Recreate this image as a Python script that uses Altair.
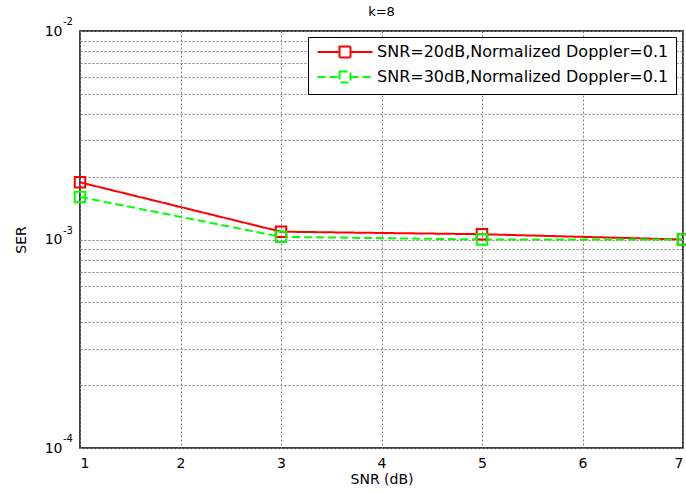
import altair as alt
import pandas as pd

# ---- data ----
snr = [1, 3, 5, 7]
ser_20db = [1.88e-3, 1.09e-3, 1.06e-3, 1.00e-3]
ser_30db = [1.60e-3, 1.03e-3, 1.00e-3, 1.00e-3]
series_names = ["SNR=20dB,Normalized Doppler=0.1", "SNR=30dB,Normalized Doppler=0.1"]
x_ticks = [1, 2, 3, 4, 5, 6, 7]
decades = [1e-2, 1e-3, 1e-4]
decade_exps = ["-2", "-3", "-4"]
y_grid = [m * 10.0 ** e for e in (-4, -3) for m in range(1, 10)] + [1e-2]

rows = []
for name, vals in zip(series_names, [ser_20db, ser_30db]):
    for x, v in zip(snr, vals):
        rows.append({"snr": x, "ser": v, "series": name})
df = pd.DataFrame(rows)
df_exp = pd.DataFrame({"ser": decades, "exp": decade_exps})

FONT = "DejaVu Sans"

yscale = alt.Scale(type="log", domain=[1e-4, 1e-2], nice=False)
xscale = alt.Scale(domain=[1, 7], nice=False)
cscale = alt.Scale(domain=series_names, range=["#ff0000", "#00ff00"])

color = alt.Color("series:N", sort=series_names, scale=cscale,
                  legend=alt.Legend(title=None, orient="none", legendX=228, legendY=6,
                                    symbolType="M-5,0L-1,0M1,0L5,0M-1,-1L1,-1L1,1L-1,1Z",
                                    symbolSize=121, symbolStrokeWidth=2,
                                    symbolFillColor="white",
                                    symbolOffset=22, labelOffset=24,
                                    labelFontSize=16, labelFont=FONT, labelColor="black",
                                    labelLimit=400,
                                    rowPadding=5, padding=7,
                                    strokeColor="black", fillColor="white"))
dash = alt.StrokeDash("series:N", sort=series_names,
                      scale=alt.Scale(domain=series_names, range=[[1, 0], [8, 4]]),
                      legend=None)

x_enc = alt.X("snr:Q", scale=xscale, title="SNR (dB)",
              axis=alt.Axis(values=x_ticks, format="d", grid=True, ticks=False,
                            domain=False, labelPadding=8, titlePadding=2))
y_enc = alt.Y("ser:Q", scale=yscale, title="SER",
              axis=alt.Axis(values=y_grid, grid=True, ticks=False, domain=False,
                            labelOverlap=False, labelBound=False,
                            labelExpr="(datum.value==0.01||datum.value==0.001||datum.value==0.0001) ? '10' : ''",
                            labelPadding=18, titlePadding=16))

base = alt.Chart(df)
lines = base.mark_line(strokeWidth=2).encode(x=x_enc, y=y_enc, color=color, strokeDash=dash)
points = base.mark_point(shape="square", filled=False, size=110, strokeWidth=2, opacity=1).encode(
    x=x_enc, y=y_enc, color=alt.Color("series:N", sort=series_names, legend=None, scale=cscale))
exps = alt.Chart(df_exp).mark_text(align="left", baseline="middle", dy=-9, fontSize=10, font=FONT,
                                   color="black").encode(
    x=alt.value(-17), y=y_enc, text="exp:N")

chart = alt.layer(lines, points, exps).properties(
    width=603, height=417,
    background="white",
    title=alt.TitleParams("k=8", fontSize=13, fontWeight="normal", font=FONT, color="black",
                          offset=-2, anchor="middle"),
    autosize=alt.AutoSizeParams(type="none"),
    padding={"left": 80, "top": 31, "right": 3, "bottom": 46},
).configure_view(stroke="black", strokeWidth=1.5).configure_axis(
    labelFont=FONT, titleFont=FONT, labelFontSize=14, titleFontSize=14,
    labelColor="black", titleColor="black", titleFontWeight="normal",
    gridColor="#808080", gridDash=[2, 2], gridWidth=1, gridOpacity=1,
)

chart.save("out.html", embed_options={"renderer": "svg", "actions": False})
